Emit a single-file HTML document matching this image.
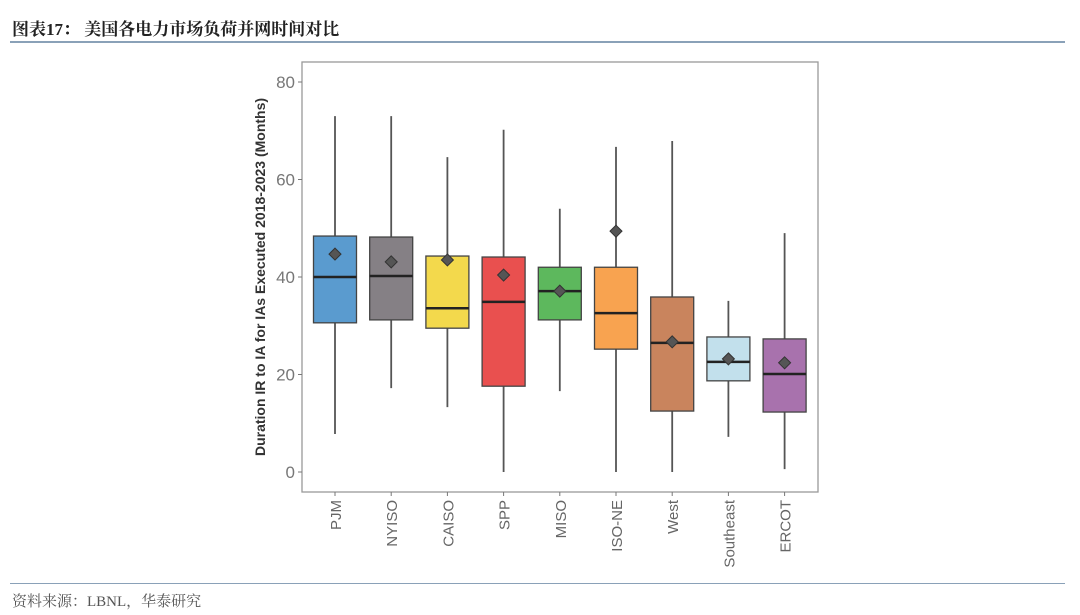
<!DOCTYPE html>
<html><head><meta charset="utf-8">
<style>
body{margin:0;width:1080px;height:615px;background:#fff;position:relative;overflow:hidden;font-family:"Liberation Sans","Noto Sans CJK SC",sans-serif}
.title{position:absolute;left:12px;top:15px;font-size:17px;font-weight:bold;color:#222;font-family:"Liberation Serif","Noto Serif CJK SC",serif}
.rule{position:absolute;left:10px;width:1055px;height:2px;background:#8aa1b8}
.src{position:absolute;left:12px;top:590px;font-size:15px;color:#555;font-family:"Liberation Serif","Noto Serif CJK SC",serif}
</style></head><body>
<div class="title">图表17： 美国各电力市场负荷并网时间对比</div>
<div class="rule" style="top:41px"></div>
<svg id="chart" width="1080" height="615" style="position:absolute;left:0;top:0"></svg>
<div class="rule" style="top:583px;height:1px"></div>
<div class="src">资料来源：LBNL，华泰研究</div>
<script>
const categories=["PJM","NYISO","CAISO","SPP","MISO","ISO-NE","West","Southeast","ERCOT"];
const whiskerHigh=[73,73,64.6,70.2,54,66.7,67.9,35.1,49];
const q3=[48.4,48.2,44.3,44.1,42,42,35.9,27.7,27.3];
const medians=[40,40.2,33.6,34.9,37.1,32.6,26.5,22.6,20.1];
const q1=[30.6,31.2,29.5,17.6,31.2,25.2,12.5,18.7,12.3];
const whiskerLow=[7.8,17.2,13.3,0,16.6,0,0,7.2,0.6];
const means=[44.7,43.1,43.5,40.4,37.1,49.4,26.7,23.2,22.4];
const yTicks=[0,20,40,60,80];
const colors=["#5a9bcf","#858085","#f3d94c","#e9504f","#5db85d","#f8a350","#c9845d","#c2e0ec","#a872ad"];
const svg=document.getElementById('chart');const NS="http://www.w3.org/2000/svg";
const L=302,R=818,T=62,B=492;
const y=v=>472-v*4.875;
const x=i=>335+i*56.2;
function mk(tag,attrs){const e=document.createElementNS(NS,tag);for(const k in attrs)e.setAttribute(k,attrs[k]);svg.appendChild(e);return e;}
let fr=mk('rect',{x:L,y:T,width:R-L,height:B-T,fill:'none',stroke:'#999','stroke-width':1.3});


yTicks.forEach(t=>{
 let l=mk('line',{x1:L-4,x2:L,y1:y(t),y2:y(t),stroke:'#777'});
 
 
 let tx=mk('text',{x:L-7,y:y(t)+6,'text-anchor':'end','font-size':17,fill:'#777','font-family':'Liberation Sans'});tx.textContent=t;
 
 
});
let yt=mk('text',{transform:'translate(265,277) rotate(-90)','text-anchor':'middle','font-size':14,'font-weight':'bold',fill:'#333','font-family':'Liberation Sans'});
yt.textContent="Duration IR to IA for IAs Executed 2018-2023 (Months)";


categories.forEach((c,i)=>{
 const cx=x(i),w=43;
 let wl=mk('line',{x1:cx,x2:cx,y1:y(whiskerHigh[i]),y2:y(whiskerLow[i]),stroke:'#555','stroke-width':1.8});
 
 
 let bx=mk('rect',{x:cx-w/2,y:y(q3[i]),width:w,height:y(q1[i])-y(q3[i]),fill:colors[i],stroke:'#444','stroke-width':1.3});
 
 
 let md=mk('line',{x1:cx-w/2,x2:cx+w/2,y1:y(medians[i]),y2:y(medians[i]),stroke:'#222','stroke-width':2.5});
 
 
 const my=y(means[i]);
 let mn=mk('polygon',{points:`${cx},${my-6} ${cx+6},${my} ${cx},${my+6} ${cx-6},${my}`,fill:'#555',stroke:'#333'});
 
 
 let tk=mk('line',{x1:cx,x2:cx,y1:B,y2:B+4,stroke:'#777'});
 
 
 let lb=mk('text',{transform:`translate(${cx+6},${B+8}) rotate(-90)`,'text-anchor':'end','font-size':15,fill:'#666','font-family':'Liberation Sans'});
 lb.textContent=c;
 
 
});
</script>
</body></html>
